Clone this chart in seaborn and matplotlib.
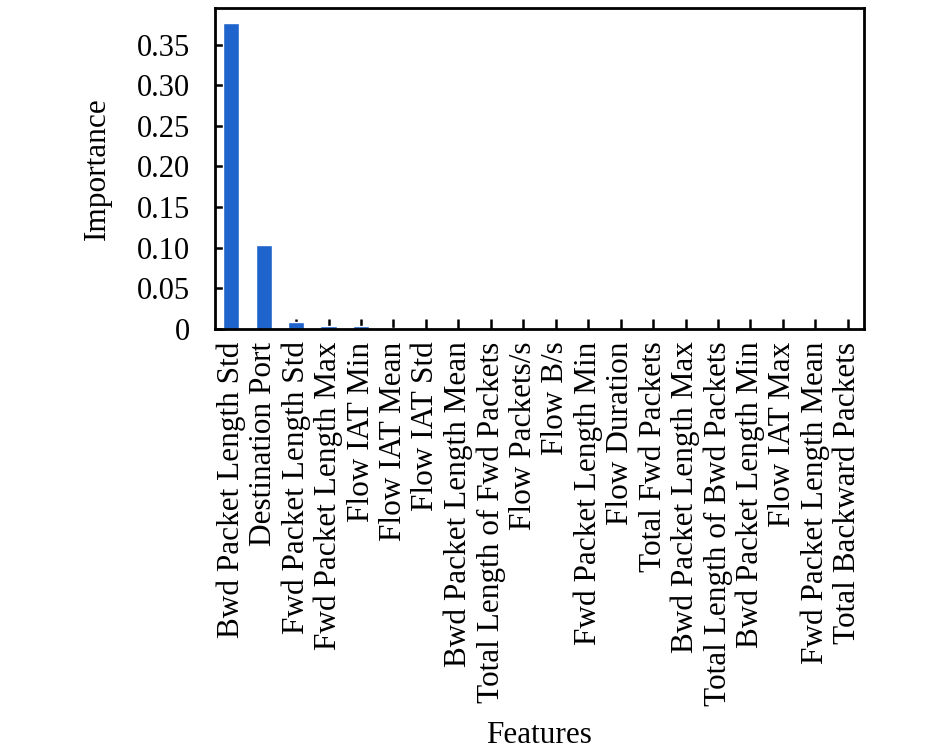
import matplotlib
matplotlib.use("Agg")
import matplotlib.pyplot as plt
import seaborn as sns
import pandas as pd
from matplotlib.ticker import FuncFormatter

features = [
    "Bwd Packet Length Std", "Destination Port", "Fwd Packet Length Std",
    "Fwd Packet Length Max", "Flow IAT Min", "Flow IAT Mean", "Flow IAT Std",
    "Bwd Packet Length Mean", "Total Length of Fwd Packets", "Flow Packets/s",
    "Flow B/s", "Fwd Packet Length Min", "Flow Duration", "Total Fwd Packets",
    "Bwd Packet Length Max", "Total Length of Bwd Packets", "Bwd Packet Length Min",
    "Flow IAT Max", "Fwd Packet Length Mean", "Total Backward Packets",
]
importance = [0.376, 0.1035, 0.0088, 0.0043, 0.0042, 0.0015, 0.0003,
              0.0002, 0.0001, 0.0001, 0.0001, 0.0001, 0.0001, 0.0001,
              0.0001, 0.0001, 0.0001, 0.0001, 0.0001, 0.0001]

df = pd.DataFrame({"Features": features, "Importance": importance})

sns.set_theme(style="white")
plt.rcParams["font.family"] = ["Liberation Serif", "DejaVu Serif"]
plt.rcParams["mathtext.fontset"] = "stix"

fig = plt.figure(figsize=(9.45, 7.54), dpi=100)
ax = fig.add_axes([215/945, 1-329/754, (864-215)/945, (329-8)/754])

sns.barplot(data=df, x="Features", y="Importance", color="#1f63cc",
            saturation=1, width=0.5, ax=ax)

ax.set_xlim(-0.5, len(features) - 0.5)
ax.set_ylim(0, 0.395)
ax.set_yticks([0, 0.05, 0.10, 0.15, 0.20, 0.25, 0.30, 0.35])
ax.yaxis.set_major_formatter(FuncFormatter(lambda v, p: "0" if abs(v) < 1e-9 else f"{v:.2f}"))

ax.tick_params(axis="both", direction="in", length=7, width=1.8,
               colors="black", left=True, bottom=True, top=False, right=False)
ax.tick_params(axis="x", pad=9, labelsize=22.5)
ax.tick_params(axis="y", pad=18, labelsize=22)
plt.setp(ax.get_xticklabels(), rotation=90, ha="center", va="top")

for s in ax.spines.values():
    s.set_visible(True)
    s.set_color("black")
    s.set_linewidth(2)

ax.set_xlabel("Features", fontsize=22.5, color="black", labelpad=11)
ax.set_ylabel("Importance", fontsize=22.5, color="black", labelpad=18)

fig.savefig("out.png", dpi=100, facecolor="white")
